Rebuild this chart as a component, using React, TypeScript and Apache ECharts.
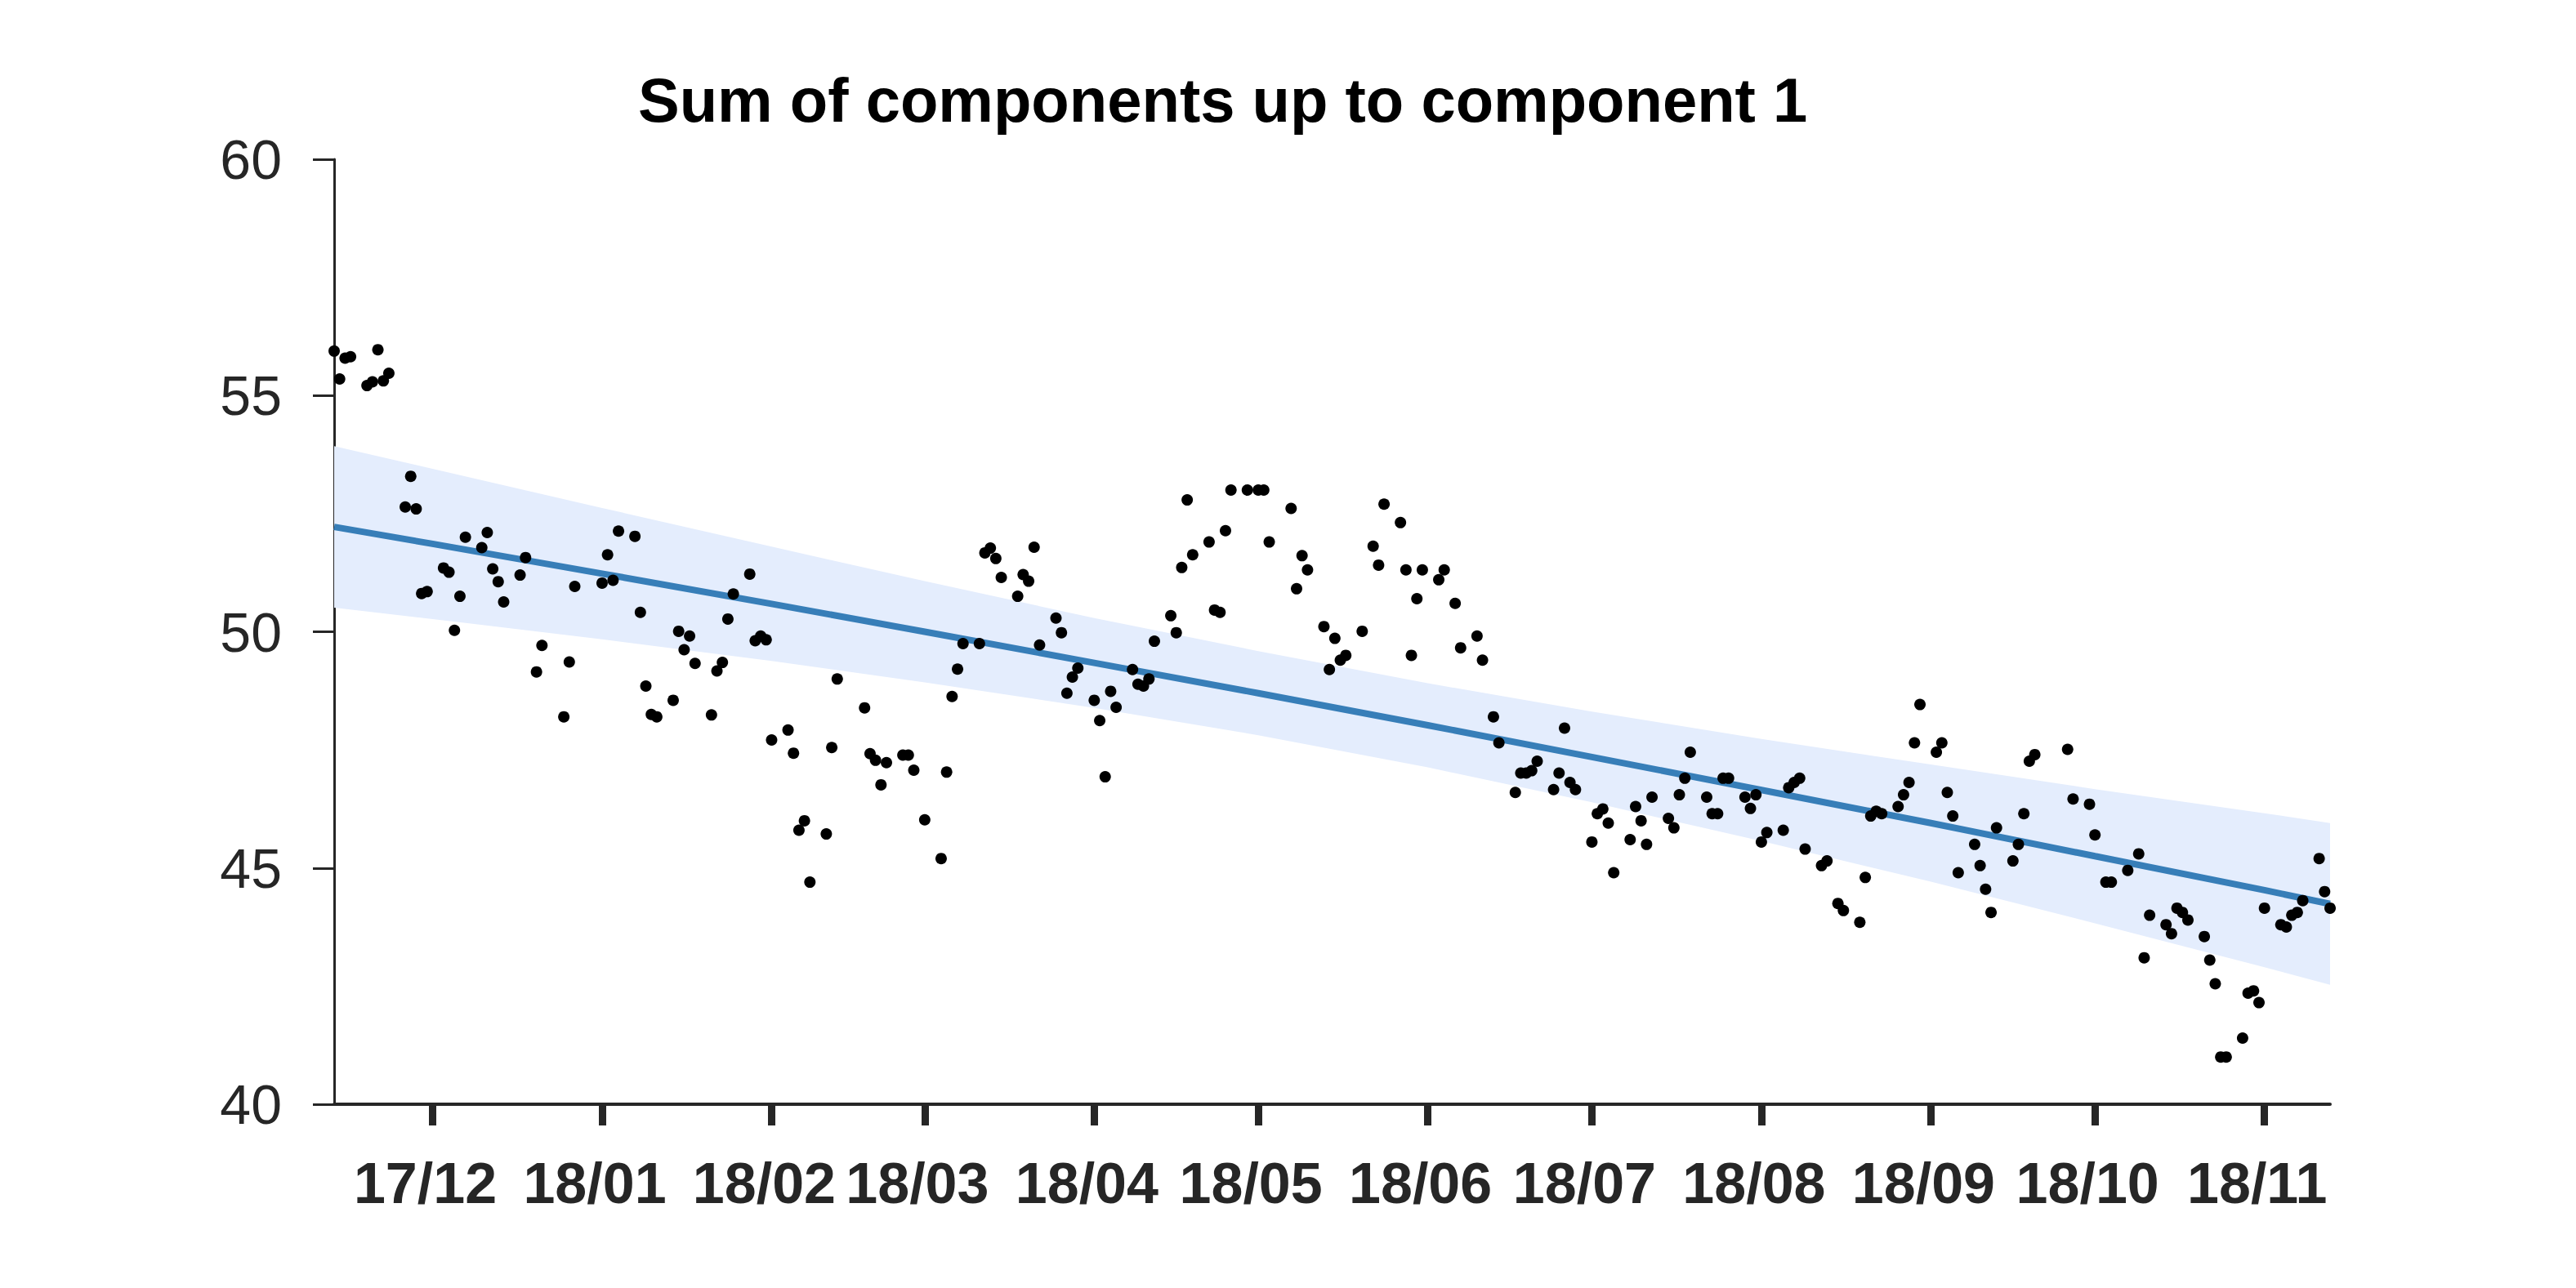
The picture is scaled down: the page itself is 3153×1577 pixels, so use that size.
import React, { useEffect, useRef } from 'react';
import * as echarts from 'echarts';

const chartTitle = 'Sum of components up to component 1';

// Observed points (date as placed on the x axis, value)
const pointDates = [
  '2017-11-13', '2017-11-14', '2017-11-15', '2017-11-16', '2017-11-19', '2017-11-20', '2017-11-21', '2017-11-22', '2017-11-23',
  '2017-11-26', '2017-11-27', '2017-11-28', '2017-11-29', '2017-11-30',
  '2017-12-03', '2017-12-04', '2017-12-05', '2017-12-06', '2017-12-07', '2017-12-10', '2017-12-11', '2017-12-12', '2017-12-13',
  '2017-12-14', '2017-12-17', '2017-12-18', '2017-12-20', '2017-12-21', '2017-12-25', '2017-12-26', '2017-12-27',
  '2018-01-01', '2018-01-02', '2018-01-03', '2018-01-04', '2018-01-07', '2018-01-08', '2018-01-09', '2018-01-10', '2018-01-11',
  '2018-01-14', '2018-01-15', '2018-01-16', '2018-01-17', '2018-01-18', '2018-01-21', '2018-01-22', '2018-01-23', '2018-01-24',
  '2018-01-25', '2018-01-28', '2018-01-29', '2018-01-30', '2018-01-31',
  '2018-02-01', '2018-02-04', '2018-02-05', '2018-02-06', '2018-02-07', '2018-02-08', '2018-02-11', '2018-02-12', '2018-02-13',
  '2018-02-18', '2018-02-19', '2018-02-20', '2018-02-21', '2018-02-22', '2018-02-25', '2018-02-26', '2018-02-27',
  '2018-03-01', '2018-03-04', '2018-03-05', '2018-03-06', '2018-03-07', '2018-03-08', '2018-03-11', '2018-03-12', '2018-03-13',
  '2018-03-14', '2018-03-15', '2018-03-18', '2018-03-19', '2018-03-20', '2018-03-21', '2018-03-22', '2018-03-25', '2018-03-26',
  '2018-03-27', '2018-03-28', '2018-03-29',
  '2018-04-01', '2018-04-02', '2018-04-03', '2018-04-04', '2018-04-05', '2018-04-08', '2018-04-09', '2018-04-10', '2018-04-11',
  '2018-04-12', '2018-04-15', '2018-04-16', '2018-04-17', '2018-04-18', '2018-04-19', '2018-04-22', '2018-04-23', '2018-04-24',
  '2018-04-25', '2018-04-26', '2018-04-29',
  '2018-05-01', '2018-05-02', '2018-05-03', '2018-05-07', '2018-05-08', '2018-05-09', '2018-05-10', '2018-05-13', '2018-05-14',
  '2018-05-15', '2018-05-16', '2018-05-17', '2018-05-20', '2018-05-22', '2018-05-23', '2018-05-24', '2018-05-27', '2018-05-28',
  '2018-05-29', '2018-05-30', '2018-05-31',
  '2018-06-03', '2018-06-04', '2018-06-06', '2018-06-07', '2018-06-10', '2018-06-11', '2018-06-13', '2018-06-14', '2018-06-17',
  '2018-06-18', '2018-06-19', '2018-06-20', '2018-06-21', '2018-06-24', '2018-06-25', '2018-06-26', '2018-06-27', '2018-06-28',
  '2018-07-01', '2018-07-02', '2018-07-03', '2018-07-04', '2018-07-05', '2018-07-08', '2018-07-09', '2018-07-10', '2018-07-11',
  '2018-07-12', '2018-07-15', '2018-07-16', '2018-07-17', '2018-07-18', '2018-07-19', '2018-07-22', '2018-07-23', '2018-07-24',
  '2018-07-25', '2018-07-26', '2018-07-29', '2018-07-30', '2018-07-31',
  '2018-08-01', '2018-08-02', '2018-08-05', '2018-08-06', '2018-08-07', '2018-08-08', '2018-08-09', '2018-08-12', '2018-08-13',
  '2018-08-15', '2018-08-16', '2018-08-19', '2018-08-20', '2018-08-21', '2018-08-22', '2018-08-23', '2018-08-26', '2018-08-27',
  '2018-08-28', '2018-08-29', '2018-08-30',
  '2018-09-02', '2018-09-03', '2018-09-04', '2018-09-05', '2018-09-06', '2018-09-09', '2018-09-10', '2018-09-11', '2018-09-12',
  '2018-09-13', '2018-09-16', '2018-09-17', '2018-09-18', '2018-09-19', '2018-09-20', '2018-09-26', '2018-09-27', '2018-09-30',
  '2018-10-01', '2018-10-03', '2018-10-04', '2018-10-07', '2018-10-09', '2018-10-10', '2018-10-11', '2018-10-14', '2018-10-15',
  '2018-10-16', '2018-10-17', '2018-10-18', '2018-10-21', '2018-10-22', '2018-10-23', '2018-10-24', '2018-10-25', '2018-10-28',
  '2018-10-29', '2018-10-30', '2018-10-31',
  '2018-11-01', '2018-11-04', '2018-11-05', '2018-11-06', '2018-11-07', '2018-11-08', '2018-11-11', '2018-11-12', '2018-11-13',
];

const pointValues = [
  55.94, 55.35, 55.79, 55.82, 55.21, 55.29, 55.97, 55.31, 55.47,
  52.64, 53.29, 52.6, 50.81, 50.85,
  51.35, 51.26, 50.03, 50.75, 52.0, 51.78, 52.1, 51.33, 51.06,
  50.63, 51.2, 51.57, 49.15, 49.71, 48.2, 49.36, 50.96,
  51.03, 51.63, 51.09, 52.13, 52.02, 50.41, 48.85, 48.25, 48.2,
  48.55, 50.01, 49.62, 49.91, 49.33, 48.24, 49.17, 49.35, 50.27,
  50.8, 51.22, 49.81, 49.91, 49.83,
  47.71, 47.92, 47.43, 45.8, 46.0, 44.7, 45.72, 47.55, 49.0,
  48.39, 47.42, 47.28, 46.76, 47.23, 47.39, 47.39, 47.07,
  46.02, 45.2, 47.03, 48.63, 49.21, 49.75, 49.75, 51.67, 51.77,
  51.55, 51.15, 50.75, 51.21, 51.07, 51.79, 49.72, 50.29, 49.98,
  48.7, 49.04, 49.23,
  48.55, 48.12, 46.93, 48.74, 48.4, 49.2, 48.89, 48.85, 49.0,
  49.8, 50.34, 49.98, 51.36, 52.79, 51.63, 51.9, 50.46, 50.41,
  52.14, 53.0, 53.0,
  53.0, 53.0, 51.9, 52.61, 50.91, 51.61, 51.31, 50.11, 49.2,
  49.86, 49.4, 49.5, 50.01, 51.81, 51.41, 52.7, 52.31, 51.31,
  49.5, 50.7, 51.31,
  51.1, 51.31, 50.6, 49.66, 49.91, 49.4, 48.2, 47.65, 46.6,
  47.01, 47.01, 47.06, 47.26, 46.66, 47.01, 47.96, 46.81, 46.66,
  45.55, 46.15, 46.25, 45.95, 44.9, 45.6, 46.3, 46.0, 45.5,
  46.5, 46.05, 45.85, 46.55, 46.9, 47.45, 46.5, 46.15, 46.15,
  46.9, 46.9, 46.5, 46.26, 46.55,
  45.55, 45.75, 45.8, 46.7, 46.81, 46.9, 45.4, 45.05, 45.15,
  44.25, 44.1, 43.85, 44.8, 46.1, 46.2, 46.15, 46.3, 46.55,
  46.81, 47.65, 48.46,
  47.45, 47.65, 46.6, 46.1, 44.9, 45.5, 45.05, 44.55, 44.06,
  45.85, 45.15, 45.5, 46.15, 47.26, 47.4, 47.51, 46.46, 46.35,
  45.7, 44.7, 44.7, 44.95, 45.3, 43.1, 44.0, 43.8, 43.61,
  44.15, 44.06, 43.9, 43.55, 43.05, 42.55, 41.0, 41.0, 41.4,
  42.35, 42.4, 42.15,
  44.15, 43.8, 43.75, 44.0, 44.06, 44.31, 45.2, 44.5, 44.15,
];

// Fitted trend and its confidence band, read at month starts and at both ends
const trendDates = [
  '2017-11-13', '2017-12-01', '2018-01-01', '2018-02-01', '2018-03-01', '2018-04-01', '2018-05-01',
  '2018-06-01', '2018-07-01', '2018-08-01', '2018-09-01', '2018-10-01', '2018-11-01', '2018-11-13',
];
const trendValues = [52.22, 51.86, 51.23, 50.59, 50.0, 49.34, 48.7, 48.02, 47.35, 46.65, 45.95, 45.25, 44.53, 44.24];
const bandUpper = [53.93, 53.45, 52.62, 51.8, 51.07, 50.29, 49.59, 48.91, 48.31, 47.73, 47.19, 46.67, 46.16, 45.95];
const bandLower = [50.51, 50.27, 49.84, 49.38, 48.93, 48.39, 47.81, 47.13, 46.39, 45.57, 44.71, 43.83, 42.9, 42.53];

// x-axis ticks
const tickDates = [
  '2017-12-01', '2018-01-01', '2018-02-01', '2018-03-01', '2018-04-01', '2018-05-01',
  '2018-06-01', '2018-07-01', '2018-08-01', '2018-09-01', '2018-10-01', '2018-11-01',
];
const tickLabels = ['17/12', '18/01', '18/02', '18/03', '18/04', '18/05', '18/06', '18/07', '18/08', '18/09', '18/10', '18/11'];

const yMin = 40;
const yMax = 60;
const yStep = 5;

function toTime(s: string): number {
  const [y, m, d] = s.split('-').map(Number);
  return Date.UTC(y, m - 1, d);
}

export default function App() {
  const ref = useRef<HTMLDivElement>(null);

  useEffect(() => {
    if (!ref.current) return;
    const chart = echarts.init(ref.current, null, { renderer: 'svg' });
    const font = "'Liberation Sans', Arial, Helvetica, sans-serif";
    const axisColor = '#262626';
    const tickTimes = tickDates.map(toTime);
    const xMin = toTime(pointDates[0]);
    const xMax = toTime(pointDates[pointDates.length - 1]);

    const scatterData = pointDates.map((d, i) => [toTime(d), pointValues[i]]);
    const trendData = trendDates.map((d, i) => [toTime(d), trendValues[i]]);
    const bandData = trendDates.map((d, i) => [toTime(d), bandLower[i], bandUpper[i]]);

    chart.setOption({
      animation: false,
      backgroundColor: '#ffffff',
      title: {
        text: chartTitle,
        left: 781,
        top: 84,
        padding: 0,
        textStyle: { fontFamily: font, fontSize: 76, fontWeight: 'bold', color: '#000000' },
      },
      grid: { left: 409, right: 301, top: 195, bottom: 225, containLabel: false },
      xAxis: {
        type: 'value',
        min: xMin,
        max: xMax,
        scale: true,
        axisLine: { show: true, onZero: false, lineStyle: { color: axisColor, width: 4 } },
        axisTick: { show: true, customValues: tickTimes, length: 26, lineStyle: { color: axisColor, width: 9 } },
        axisLabel: {
          show: true,
          customValues: tickTimes,
          margin: 62,
          fontFamily: font,
          fontSize: 70,
          fontWeight: 'bold',
          color: axisColor,
          hideOverlap: false,
          padding: [0, 18, 0, 0],
          formatter: (v: number) => {
            const i = tickTimes.findIndex((t) => Math.abs(t - v) < 43200000);
            return i >= 0 ? tickLabels[i] : '';
          },
        },
        splitLine: { show: false },
      },
      yAxis: {
        type: 'value',
        min: yMin,
        max: yMax,
        interval: yStep,
        axisLine: { show: true, lineStyle: { color: axisColor, width: 3 } },
        axisTick: { show: true, length: 26, lineStyle: { color: axisColor, width: 3 } },
        axisLabel: { margin: 64, fontFamily: font, fontSize: 68, color: axisColor },
        splitLine: { show: false },
      },
      series: [
        {
          name: 'band',
          type: 'custom',
          silent: true,
          z: 1,
          encode: { x: 0, y: [1, 2] },
          data: bandData,
          renderItem: (params: any, api: any) => {
            if (params.dataIndex !== 0) return null;
            const top: number[][] = [];
            const bottom: number[][] = [];
            for (let i = 0; i < bandData.length; i++) {
              top.push(api.coord([bandData[i][0], bandData[i][2]]));
              bottom.push(api.coord([bandData[i][0], bandData[i][1]]));
            }
            const points = top.concat(bottom.reverse());
            return {
              type: 'polygon',
              shape: { points },
              style: { fill: '#e4edfd', stroke: 'none' },
            };
          },
        },
        {
          name: 'trend',
          type: 'line',
          data: trendData,
          symbol: 'none',
          lineStyle: { color: '#377eb8', width: 8 },
          z: 2,
        },
        {
          name: 'observed',
          type: 'scatter',
          data: scatterData,
          symbolSize: 14,
          itemStyle: { color: '#000000', opacity: 1 },
          z: 3,
        },
      ],
    });

    return () => chart.dispose();
  }, []);

  return (
    <div
      ref={ref}
      style={{ position: 'fixed', left: 0, top: 0, width: 3153, height: 1577, background: '#ffffff' }}
    />
  );
}
